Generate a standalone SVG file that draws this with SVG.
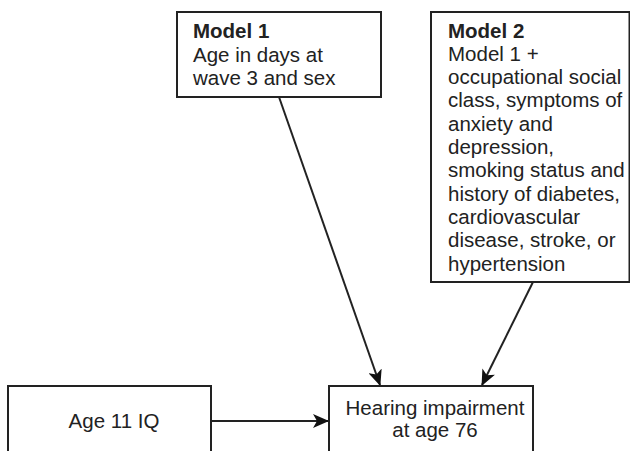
<svg xmlns="http://www.w3.org/2000/svg" width="630" height="451" viewBox="0 0 630 451">
<style>
.box{fill:#fff;stroke:#222;stroke-width:2}
.t{font-family:"Liberation Sans",Arial,sans-serif;font-size:20.5px;fill:#222}
.b{font-weight:bold}
.c{text-anchor:middle}
.edge{stroke:#222;stroke-width:2;fill:none;marker-end:url(#ah)}
</style>
<defs>
<marker id="ah" viewBox="0 0 16 14" refX="15" refY="7" markerWidth="16" markerHeight="14" markerUnits="userSpaceOnUse" orient="auto">
<path d="M0,0 L16,7 L0,14 L4,7 z" fill="#111"/>
</marker>
</defs>
<rect width="630" height="451" fill="#fff"/>
<g id="edges">
<line class="edge" x1="279" y1="97" x2="380" y2="385"/>
<line class="edge" x1="533" y1="282" x2="482" y2="385"/>
<line class="edge" x1="211" y1="421" x2="328" y2="421"/>
</g>
<g id="model1">
<rect class="box" x="177" y="12" width="204" height="85"/>
<text class="t b" x="193" y="37.5">Model 1</text>
<text class="t" x="193" y="61.5">Age in days at</text>
<text class="t" x="193" y="85">wave 3 and sex</text>
</g>
<g id="model2">
<rect class="box" x="431" y="12" width="198.5" height="270"/>
<text class="t" x="448">
<tspan class="b" x="448" y="37.5">Model 2</tspan>
<tspan x="448" y="60.8">Model 1 +</tspan>
<tspan x="448" y="84.1">occupational social</tspan>
<tspan x="448" y="107.4">class, symptoms of</tspan>
<tspan x="448" y="130.7">anxiety and</tspan>
<tspan x="448" y="154">depression,</tspan>
<tspan x="448" y="177.3">smoking status and</tspan>
<tspan x="448" y="200.6">history of diabetes,</tspan>
<tspan x="448" y="223.9">cardiovascular</tspan>
<tspan x="448" y="247.2">disease, stroke, or</tspan>
<tspan x="448" y="270.5">hypertension</tspan>
</text>
</g>
<g id="iq">
<rect class="box" x="8" y="386" width="203" height="80"/>
<text class="t c" x="114" y="428">Age 11 IQ</text>
</g>
<g id="hearing">
<rect class="box" x="329" y="386" width="204" height="80"/>
<text class="t c" x="435" y="415">Hearing impairment</text>
<text class="t c" x="435" y="437">at age 76</text>
</g>
</svg>
